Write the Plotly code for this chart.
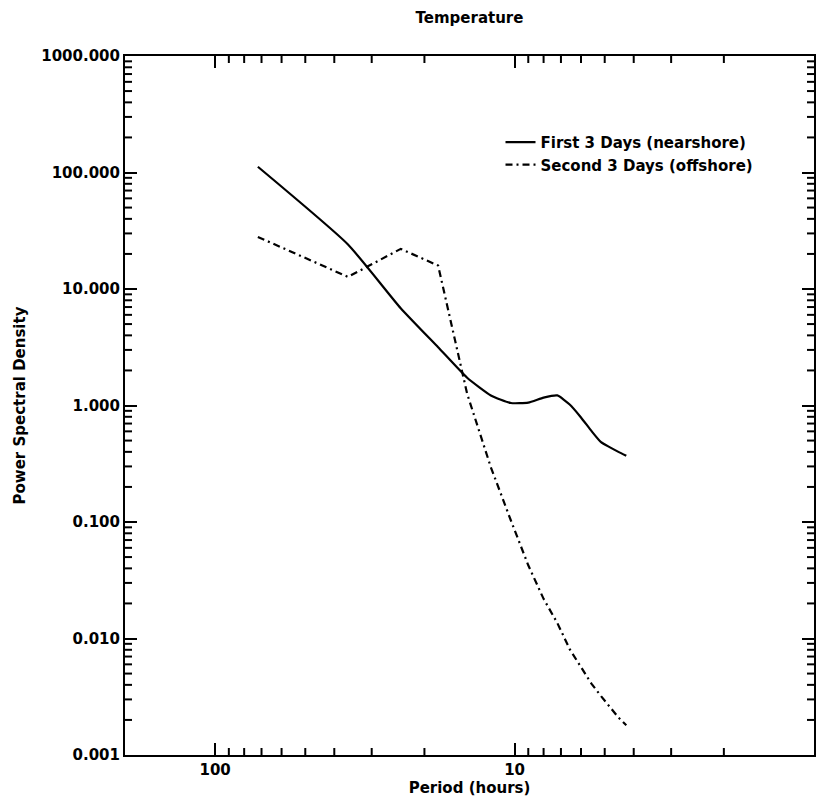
import plotly.graph_objects as go

# Periods (hours): 72/k for k = 1..17
periods = [72.0, 36.0, 24.0, 18.0, 14.4, 12.0, 10.286, 9.0, 8.0, 7.2,
           6.545, 6.0, 5.538, 5.143, 4.8, 4.5, 4.235]

first_3_days = [112, 24.1, 6.84, 3.16, 1.73, 1.22, 1.05, 1.06, 1.17, 1.22,
                1.02, 0.79, 0.605, 0.484, 0.437, 0.40, 0.37]

second_3_days = [28.0, 12.7, 22.1, 15.9, 1.26, 0.295, 0.103, 0.0425, 0.0219, 0.0136,
                 0.0081, 0.0056, 0.0041, 0.0032, 0.0026, 0.0021, 0.0018]

x_tickvals = [100, 10]
x_ticktext = ["100", "10"]
x_minor = [90, 80, 70, 60, 50, 40, 30, 20, 9, 8, 7, 6, 5, 4, 3, 2]
y_tickvals = [0.001, 0.01, 0.1, 1, 10, 100, 1000]
y_ticktext = ["0.001", "0.010", "0.100", "1.000", "10.000", "100.000", "1000.000"]
y_minor = [m * 10.0 ** e for e in range(-3, 3) for m in range(2, 10)]

FONT = "DejaVu Sans"
FS = 15
WEIGHT = "bold"
MINOR_LEN = 7

fig = go.Figure()
fig.add_trace(go.Scatter(
    x=periods, y=first_3_days, mode="lines",
    name="First 3 Days (nearshore)",
    line=dict(color="black", width=2.2, dash="solid", shape="spline", smoothing=0.5),
))
fig.add_trace(go.Scatter(
    x=periods, y=second_3_days, mode="lines",
    name="Second 3 Days (offshore)",
    line=dict(color="black", width=2.2, dash="7px,4px,2px,4px"),
))

tf = dict(family=FONT, size=FS, color="black", weight=WEIGHT)

axis_common = dict(
    showline=True, linecolor="black", linewidth=2, mirror="allticks",
    ticks="inside", ticklen=12, tickwidth=2, tickcolor="black",
    showgrid=False, zeroline=False, tickfont=tf,
)

fig.update_layout(
    xaxis=dict(
        type="log", range=[2.30103, 0.0],
        tickvals=x_tickvals, ticktext=x_ticktext,
        title=dict(text="Period (hours)", font=tf, standoff=4),
        **axis_common,
    ),
    yaxis=dict(
        type="log", range=[-3, 3],
        tickvals=y_tickvals, ticktext=y_ticktext,
        title=dict(text="Power Spectral Density", font=tf, standoff=12),
        **axis_common,
    ),
)

# Minor ticks on all four sides, placed through the axis scales (pixel-length lines)
tick_line = dict(color="black", width=2)
for v in x_minor:
    fig.add_shape(type="line", xref="x", yref="paper", ysizemode="pixel",
                  x0=v, x1=v, yanchor=0, y0=0, y1=MINOR_LEN, line=tick_line)
    fig.add_shape(type="line", xref="x", yref="paper", ysizemode="pixel",
                  x0=v, x1=v, yanchor=1, y0=0, y1=-MINOR_LEN, line=tick_line)
for v in y_minor:
    fig.add_shape(type="line", yref="y", xref="paper", xsizemode="pixel",
                  y0=v, y1=v, xanchor=0, x0=0, x1=MINOR_LEN, line=tick_line)
    fig.add_shape(type="line", yref="y", xref="paper", xsizemode="pixel",
                  y0=v, y1=v, xanchor=1, x0=0, x1=-MINOR_LEN, line=tick_line)

fig.update_layout(
    width=817, height=807,
    margin=dict(l=125, r=1, t=56, b=52),
    paper_bgcolor="white", plot_bgcolor="white",
    font=tf,
    title=dict(text="Temperature", x=0.5, xref="paper", xanchor="center",
               y=1 - 18 / 807, yref="container", yanchor="middle", font=tf),
    legend=dict(x=0.545, y=0.90, xanchor="left", yanchor="top",
                bgcolor="rgba(0,0,0,0)", borderwidth=0, font=tf),
    showlegend=True,
)

fig.write_html("out.html")
